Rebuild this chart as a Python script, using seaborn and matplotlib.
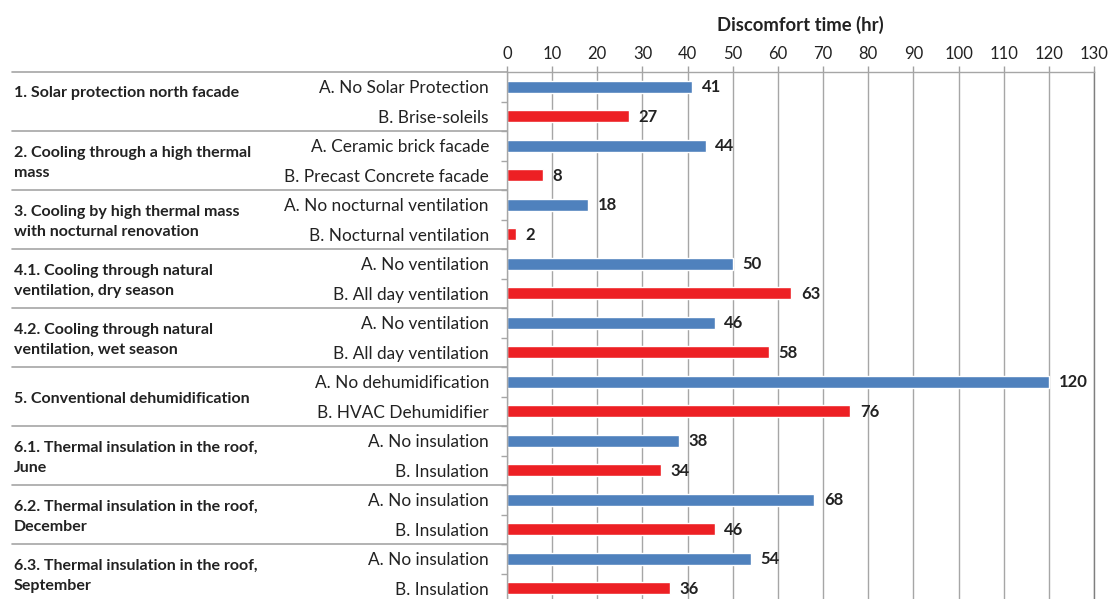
import matplotlib
matplotlib.use("Agg")
import matplotlib.pyplot as plt
import matplotlib.transforms as mtransforms
import seaborn as sns
import pandas as pd
import numpy as np

# Strategy groups (multi-line names) and the two options compared in each
groups = [
    "1. Solar protection north facade",
    "2. Cooling through a high thermal\nmass",
    "3. Cooling by high thermal mass\nwith nocturnal renovation",
    "4.1. Cooling through natural\nventilation, dry season",
    "4.2. Cooling through natural\nventilation, wet season",
    "5. Conventional dehumidification",
    "6.1. Thermal insulation in the roof,\nJune",
    "6.2. Thermal insulation in the roof,\nDecember",
    "6.3. Thermal insulation in the roof,\nSeptember",
]
option_a = [
    "A. No Solar Protection", "A. Ceramic brick facade", "A. No nocturnal ventilation",
    "A. No ventilation", "A. No ventilation", "A. No dehumidification",
    "A. No insulation", "A. No insulation", "A. No insulation",
]
option_b = [
    "B. Brise-soleils", "B. Precast Concrete facade", "B. Nocturnal ventilation",
    "B. All day ventilation", "B. All day ventilation", "B. HVAC Dehumidifier",
    "B. Insulation", "B. Insulation", "B. Insulation",
]
hours_a = [41, 44, 18, 50, 46, 120, 38, 68, 54]
hours_b = [27, 8, 2, 63, 58, 76, 34, 46, 36]
x_ticks = list(range(0, 131, 10))

rows = []
for g, (la, lb, va, vb) in enumerate(zip(option_a, option_b, hours_a, hours_b)):
    rows.append({"row": f"r{2*g:02d}", "label": la, "option": "A", "hours": va, "group": g})
    rows.append({"row": f"r{2*g+1:02d}", "label": lb, "option": "B", "hours": vb, "group": g})
df = pd.DataFrame(rows)

FONT = ["Lato", "DejaVu Sans"]
sns.set_theme(style="white")
plt.rcParams["font.family"] = FONT

fig = plt.figure(figsize=(11.14, 5.99), dpi=100)
ax = fig.add_axes([507 / 1114, 1 - 603 / 599, 587 / 1114, 531 / 599])

blue = "#4F81BD"
red = "#ED2024"
sns.barplot(data=df, y="row", x="hours", hue="option", palette={"A": blue, "B": red},
            dodge=False, width=0.42, orient="h", ax=ax, legend=False, saturation=1)

ax.set_xlim(0, 130)
ax.set_ylim(17.5, -0.5)
ax.set_xticks(x_ticks)
ax.xaxis.tick_top()
ax.xaxis.set_label_position("top")
ax.set_xlabel("Discomfort time (hr)", fontsize=13.3, fontweight="bold", labelpad=11, color="#222222")
ax.set_ylabel("")
ax.tick_params(axis="x", which="major", top=True, bottom=False, length=4, width=1,
               color="#A0A0A0", labelsize=12, labelcolor="#222222", pad=3)

grid_c = "#A6A6A6"
ax.grid(axis="x", color=grid_c, linewidth=1)
ax.grid(axis="y", visible=False)
ax.set_axisbelow(True)
for side in ["top", "left"]:
    ax.spines[side].set_color(grid_c)
    ax.spines[side].set_linewidth(1)
ax.spines["right"].set_color("#7F7F7F")
ax.spines["right"].set_linewidth(1)
ax.spines["bottom"].set_visible(False)

# Row labels (options) on the left, right aligned
ax.set_yticks(range(len(df)))
ax.set_yticklabels(df["label"], fontsize=12.4, color="#222222")
ax.tick_params(axis="y", which="major", length=0, pad=13)
ax.set_yticks(np.arange(0.5, len(df) - 0.5, 1), minor=True)
ax.tick_params(axis="y", which="minor", length=4, width=1, color=grid_c, left=True)

# Value labels
for i, v in enumerate(df["hours"]):
    ax.annotate(f"{v}", (v, i), xytext=(7, -0.5), textcoords="offset points",
                va="center", ha="left", fontsize=12, fontweight="bold", color="#222222")

# Group names and separator lines spanning the label column
trans = mtransforms.blended_transform_factory(fig.transFigure, ax.transData)
x0 = 12 / 1114
x1 = 507 / 1114
for g, name in enumerate(groups):
    top = 2 * g - 0.5
    ax.plot([x0, x1], [top, top], transform=trans, color=grid_c, lw=1.2, clip_on=False)
    yc = 2 * g + 0.58
    if g == 0:
        yc -= 0.38
    ax.text(14 / 1114, yc, name, transform=trans, ha="left", va="center",
            fontsize=11.5, fontweight="bold", color="#222222", linespacing=1.6)

fig.savefig("out.png", dpi=100)
